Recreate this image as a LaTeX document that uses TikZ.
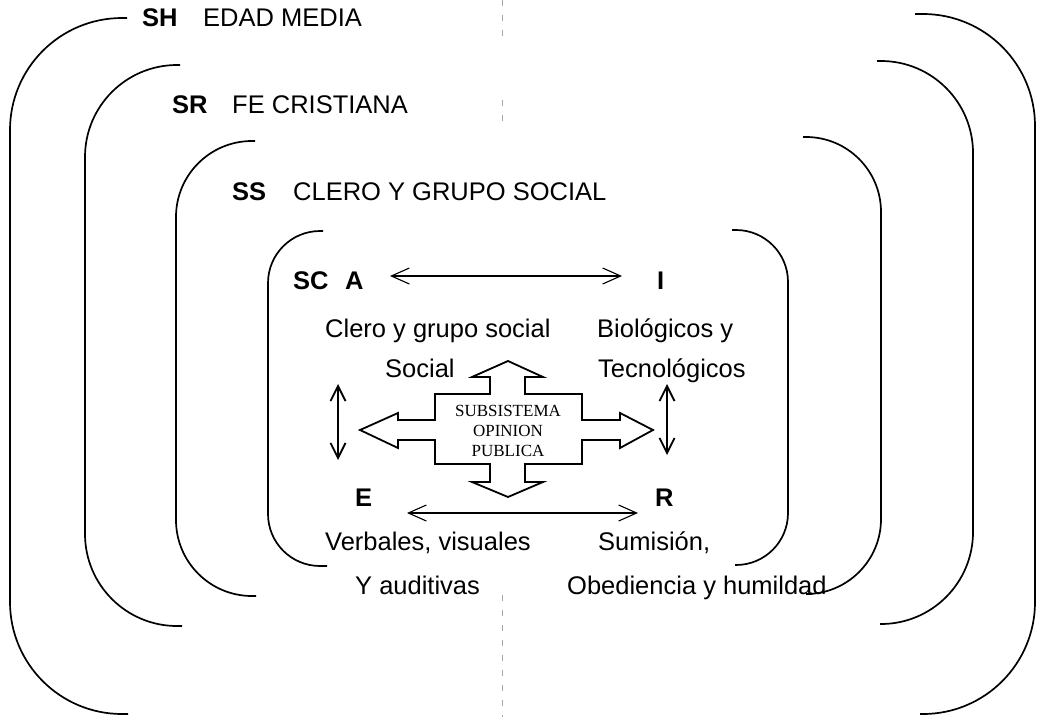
\documentclass[tikz,border=0pt]{standalone}
\usepackage{fontspec}
\setmainfont{Liberation Sans}
\newfontfamily\opinionfont{Liberation Serif}
\usetikzlibrary{arrows.meta}

\tikzset{
  txt/.style={anchor=base west,inner sep=0pt,font=\fontsize{25.5}{30}\selectfont},
  tag/.style={txt,font=\fontsize{25.5}{30}\selectfont\bfseries},
  shell/.style={line width=1.7pt},
  biarrow/.style={line width=1.1pt,{Straight Barb[length=18pt,width=16pt]}-{Straight Barb[length=18pt,width=16pt]}},
  vbiarrow/.style={line width=1.8pt,{Straight Barb[length=15pt,width=15pt]}-{Straight Barb[length=15pt,width=15pt]}}
}

\begin{document}
\begin{tikzpicture}[x=1pt,y=-1pt]
\useasboundingbox (0,0) rectangle (1040,717);

\draw[gray!70,thin,dash pattern=on 6pt off 9pt] (502,0) -- (502,42);
\draw[gray!70,thin,dash pattern=on 6pt off 9pt] (502,100) -- (502,125);
\draw[gray!70,thin,dash pattern=on 6pt off 9pt] (502,595) -- (502,717);

\draw[shell,rounded corners=112pt] (127,18) -- (10,18) -- (10,714) -- (128,714);
\draw[shell,rounded corners=112pt] (915,14) -- (1035,14) -- (1035,714) -- (920,714);
\draw[shell,rounded corners=92pt] (180,65) -- (85,65) -- (85,626) -- (182,626);
\draw[shell,rounded corners=92pt] (877,61) -- (973,61) -- (973,624) -- (880,624);
\draw[shell,rounded corners=76pt] (255,141) -- (176,141) -- (176,596) -- (256,596);
\draw[shell,rounded corners=75pt] (803,137) -- (881,137) -- (881,594) -- (812,594);
\draw[shell,rounded corners=52pt] (323,231) -- (268,231) -- (268,566) -- (327,566);
\draw[shell,rounded corners=52pt] (732,230) -- (788,230) -- (788,565) -- (735,565);

\node[tag] (sh) at (142,27) {SH};
\node[txt] (edad) at (203,27) {EDAD MEDIA};
\node[tag] (sr) at (172,113) {SR};
\node[txt] (fe) at (232,113) {FE CRISTIANA};
\node[tag] (ss) at (232,200) {SS};
\node[txt] (clero) at (293,200) {CLERO Y GRUPO SOCIAL};
\node[tag] (sc) at (293,289) {SC};
\node[tag] (a) at (345,289) {A};
\node[tag] (i) at (657,289) {I};
\node[txt] (aval) at (325,337) {Clero y grupo social};
\node[txt] (ival) at (597,337) {Biológicos y};
\node[txt] (aval2) at (385,377) {Social};
\node[txt] (ival2) at (598,377) {Tecnológicos};
\node[tag] (e) at (355,506) {E};
\node[tag] (r) at (655,506) {R};
\node[txt] (eval) at (325,550) {Verbales, visuales};
\node[txt] (rval) at (598,550) {Sumisión,};
\node[txt] (eval2) at (355,594) {Y auditivas};
\node[txt] (rval2) at (567,594) {Obediencia y humildad};

\draw[line width=1.8pt,line join=miter]
  (508,361) -- (543,377) -- (525,377) -- (525,394) -- (582,394) -- (582,420)
  -- (620,420) -- (620,413) -- (653,430) -- (620,448) -- (620,440) -- (582,440)
  -- (582,464) -- (525,464) -- (525,482) -- (543,482) -- (508,497) -- (472,482)
  -- (490,482) -- (490,464) -- (435,464) -- (435,440) -- (398,440) -- (398,448)
  -- (360,430) -- (398,413) -- (398,420) -- (435,420) -- (435,394) -- (490,394)
  -- (490,377) -- (472,377) -- cycle;
\node[align=center,inner sep=0pt,font=\opinionfont\fontsize{17}{20}\selectfont] (op) at (508,431) {SUBSISTEMA\\OPINION\\PUBLICA};

\coordinate (ai1) at (390,276);
\coordinate (ai2) at (622,276);
\coordinate (er1) at (407,513);
\coordinate (er2) at (638,513);
\coordinate (ae1) at (338,384);
\coordinate (ae2) at (338,460);
\coordinate (ir1) at (667,384);
\coordinate (ir2) at (667,455);
\draw[biarrow] (ai1) -- (ai2);
\draw[biarrow] (er1) -- (er2);
\draw[vbiarrow] (ae1) -- (ae2);
\draw[vbiarrow] (ir1) -- (ir2);
\end{tikzpicture}
\end{document}
